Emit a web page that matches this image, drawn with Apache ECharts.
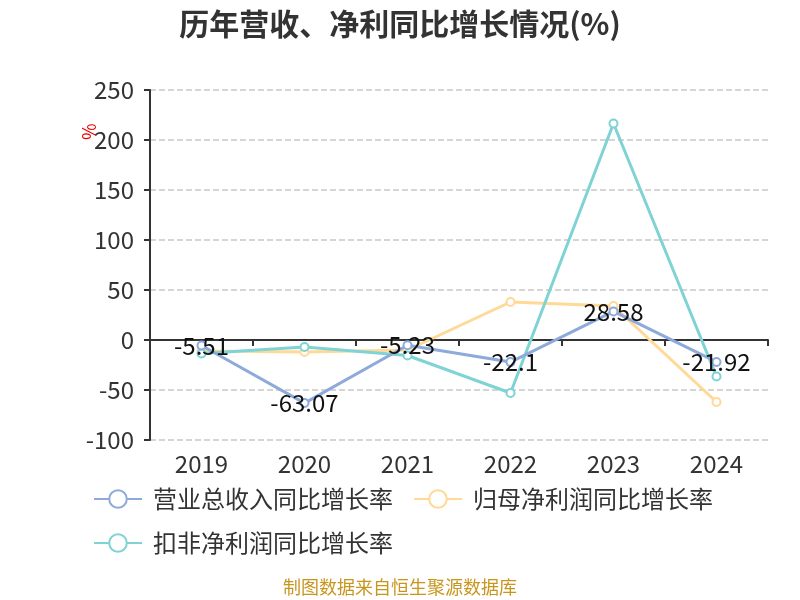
<!DOCTYPE html>
<html><head><meta charset="utf-8">
<script src="https://cdn.jsdelivr.net/npm/echarts@6/dist/echarts.min.js"></script>
<style>html,body{margin:0;padding:0;background:#fff}#c{width:800px;height:600px}</style>
</head><body><div id="c"></div>
<script>
const categories = ['2019','2020','2021','2022','2023','2024'];
const revenueGrowth = [-5.51, -63.07, -5.23, -22.1, 28.58, -21.92];
const netProfitGrowth = [-11, -12, -10, 38, 34, -62];
const deductedProfitGrowth = [-13.5, -7, -15.5, -53, 216.5, -36.5];
const yTicks = {min: -100, max: 250, interval: 50};
const seriesNames = ['营业总收入同比增长率', '归母净利润同比增长率', '扣非净利润同比增长率'];
const colors = ['#8eaadb', '#ffd995', '#7fd3d5'];

const chart = echarts.init(document.getElementById('c'));
const font = 'Noto Sans CJK SC, Microsoft YaHei, sans-serif';
function mk(name, data, color, labels) {
  return {
    name, type: 'line', data, symbol: 'emptyCircle', symbolSize: 8,
    itemStyle: {color}, lineStyle: {width: 3, color},
    label: labels ? {show: true, position: 'inside', fontSize: 24, color: '#111', fontFamily: font,
      formatter: p => String(p.value)} : {show: false},
    z: labels ? 3 : 2
  };
}
chart.setOption({
  animation: false,
  color: colors,
  title: {text: '历年营收、净利同比增长情况(%)', left: 'center', top: 4,
    textStyle: {fontSize: 30, fontWeight: 'bold', color: '#333', fontFamily: font}},
  legend: {left: 88, top: 482, width: 690, itemWidth: 48, itemHeight: 22, itemGap: 20,
    textStyle: {fontSize: 24, lineHeight: 22, color: '#333', fontFamily: font, padding: [0, 0, 0, 6]},
    data: seriesNames},
  grid: {left: 150, right: 32, top: 90, bottom: 160, containLabel: false},
  xAxis: {type: 'category', data: categories, boundaryGap: true,
    axisLine: {onZero: true, lineStyle: {color: '#333', width: 2}},
    axisTick: {show: true, length: 6, lineStyle: {color: '#333', width: 2}},
    axisLabel: {fontSize: 24, color: '#333', fontFamily: font, margin: 12}},
  yAxis: {type: 'value', min: yTicks.min, max: yTicks.max, interval: yTicks.interval,
    axisLine: {show: true, lineStyle: {color: '#333', width: 2}},
    axisTick: {show: true, length: 6, lineStyle: {color: '#333', width: 2}},
    axisLabel: {fontSize: 24, color: '#333', fontFamily: font, margin: 16},
    splitLine: {lineStyle: {type: 'dashed', color: '#c8c8c8', width: 1.5}}},
  series: [
    mk(seriesNames[1], netProfitGrowth, colors[1], false),
    mk(seriesNames[2], deductedProfitGrowth, colors[2], false),
    mk(seriesNames[0], revenueGrowth, colors[0], true)
  ],
  graphic: [
    {type: 'text', x: 80, y: 140, rotation: Math.PI / 2,
      style: {text: '%', fontSize: 18, fill: '#e00', fontFamily: font}},
    {type: 'text', left: 'center', top: 578,
      style: {text: '制图数据来自恒生聚源数据库', fontSize: 18, fill: '#c8961e', fontFamily: font}}]
});
</script></body></html>
